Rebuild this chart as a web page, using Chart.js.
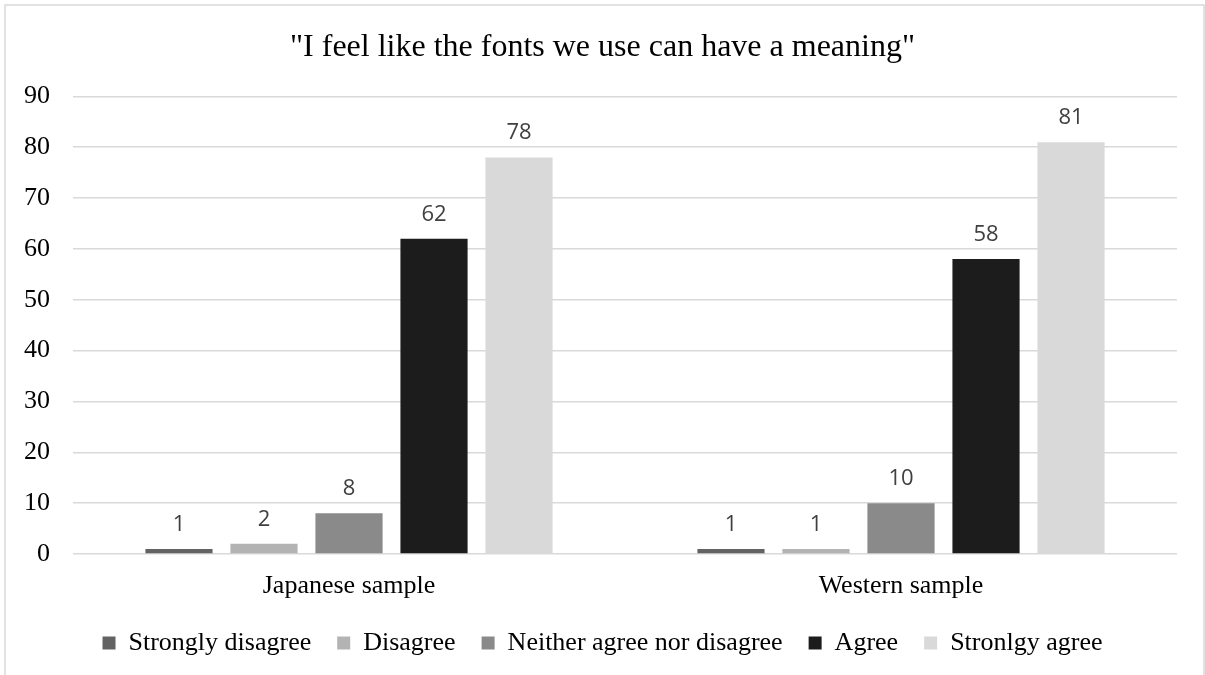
<!DOCTYPE html>
<html>
<head>
<meta charset="utf-8">
<script src="https://cdn.jsdelivr.net/npm/chart.js@4/dist/chart.umd.min.js"></script>
<style>
  html, body { margin: 0; padding: 0; background: #ffffff; }
  #wrap { position: relative; width: 1205px; height: 675px; }
</style>
</head>
<body>
<div id="wrap"><canvas id="chart" width="1205" height="675"></canvas></div>
<script>
// Survey groups on the category axis
const samples = ['Japanese sample', 'Western sample'];

// Answer options (one bar series each)
const responses = ['Strongly disagree', 'Disagree', 'Neither agree nor disagree', 'Agree', 'Stronlgy agree'];

// Counts per answer, in sample order
const stronglyDisagree = [1, 1];
const disagree = [2, 1];
const neither = [8, 10];
const agree = [62, 58];
const stronglyAgree = [78, 81];

// Value axis range
const yMin = 0;
const yMax = 90;
const yStep = 10;

const seriesValues = [stronglyDisagree, disagree, neither, agree, stronglyAgree];
const seriesColors = ['#636363', '#b3b3b3', '#8a8a8a', '#1c1c1c', '#d9d9d9'];

const serif = "'Liberation Serif', 'Times New Roman', serif";

// Light frame around the chart
const framePlugin = {
  id: 'frame',
  beforeDraw(chart) {
    const ctx = chart.ctx;
    ctx.save();
    ctx.fillStyle = '#ffffff';
    ctx.fillRect(0, 0, chart.width, chart.height);
    ctx.strokeStyle = '#d9d9d9';
    ctx.lineWidth = 1.5;
    ctx.strokeRect(5, 5, chart.width - 6, chart.height + 20);
    ctx.restore();
  }
};

// Value labels above each bar
const valueLabels = {
  id: 'valueLabels',
  afterDatasetsDraw(chart) {
    const ctx = chart.ctx;
    ctx.save();
    ctx.font = "22px 'Open Sans', 'Liberation Sans', sans-serif";
    ctx.fillStyle = '#404040';
    ctx.textAlign = 'center';
    ctx.textBaseline = 'alphabetic';
    chart.data.datasets.forEach((ds, i) => {
      chart.getDatasetMeta(i).data.forEach((bar, j) => {
        ctx.fillText(String(ds.data[j]), bar.x, bar.y - 18);
      });
    });
    ctx.restore();
  }
};

new Chart(document.getElementById('chart'), {
  type: 'bar',
  data: {
    labels: samples,
    datasets: responses.map((name, i) => ({
      label: name,
      data: seriesValues[i],
      backgroundColor: seriesColors[i],
      borderWidth: 0,
      categoryPercentage: 0.77,
      barPercentage: 0.79
    }))
  },
  options: {
    responsive: false,
    animation: false,
    devicePixelRatio: 1,
    layout: { padding: { left: 0, right: 0, top: 0, bottom: 9 } },
    plugins: {
      title: {
        display: true,
        text: '"I feel like the fonts we use can have a meaning"',
        color: '#000000',
        font: { family: serif, size: 32, weight: 'normal' },
        padding: { top: 28, bottom: 30 }
      },
      legend: {
        position: 'bottom',
        labels: {
          color: '#000000',
          font: { family: serif, size: 26 },
          boxWidth: 13,
          boxHeight: 13,
          padding: 26
        }
      },
      tooltip: { enabled: false }
    },
    scales: {
      x: {
        grid: { display: false, drawTicks: false },
        border: { display: false },
        ticks: {
          color: '#000000',
          font: { family: serif, size: 26, lineHeight: 1.2 },
          padding: 17
        },
        afterFit(scale) { scale.height = 50; }
      },
      y: {
        min: yMin,
        max: yMax,
        grid: { color: '#d9d9d9', lineWidth: 1.5, drawTicks: false },
        border: { display: false },
        ticks: {
          stepSize: yStep,
          color: '#000000',
          font: { family: serif, size: 26 },
          padding: 23
        },
        afterFit(scale) { scale.width = 73; }
      },
      // empty right-hand margin beside the plot
      yEdge: {
        type: 'linear',
        position: 'right',
        display: true,
        grid: { display: false, drawTicks: false },
        border: { display: false },
        ticks: { display: false },
        afterFit(scale) { scale.width = 28; }
      }
    }
  },
  plugins: [framePlugin, valueLabels]
});
</script>
</body>
</html>
